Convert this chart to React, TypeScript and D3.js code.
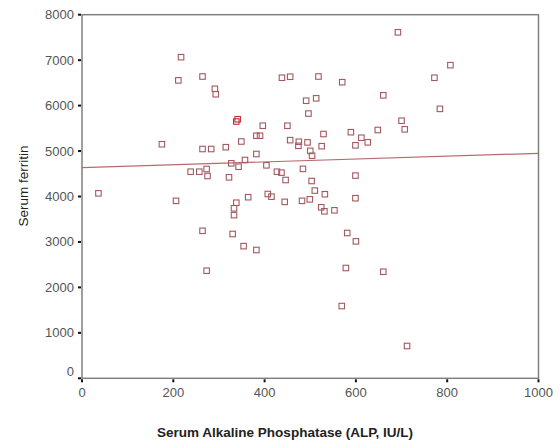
import React from "react";
import * as d3 from "d3";

const alp: number[] = [
  36, 175, 206, 211, 217, 238, 257, 264, 264, 264, 273, 273, 275, 283, 291, 293, 315, 322, 327, 330,
  333, 333, 338, 338, 341, 343, 349, 354, 357, 364, 382, 390, 382, 382, 396, 404, 407, 415, 427, 437,
  438, 444, 446, 450, 456, 456, 475, 474, 482, 484, 491, 494, 496, 499, 500, 504, 503, 510, 513, 518,
  524, 525, 529, 531, 532, 553, 569, 570, 578, 581, 589, 599, 599, 599, 600, 612, 626, 648, 660, 660,
  692, 700, 707, 712, 772, 784, 807,
];
const ferritin: number[] = [
  4070, 5150, 3905, 6555, 7065, 4545, 4545, 6640, 5045, 3245, 4605, 2367, 4451, 5045, 6370, 6250, 5085, 4422, 4730, 3175,
  3740, 3590, 3863, 5650, 5700, 4655, 5210, 2908, 4803, 3985, 5337, 5337, 4935, 2823, 5557, 4686, 4055, 3996, 4545, 4525,
  6613, 3882, 4363, 5557, 6635, 5240, 5205, 5115, 3905, 4608, 6107, 5190, 5825, 3938, 5004, 4897, 4341, 4130, 6160, 6640,
  3762, 5107, 5375, 3674, 4050, 3696, 1590, 6515, 2427, 3197, 5415, 5126, 4460, 3963, 3013, 5293, 5192, 5463, 6226, 2345,
  7612, 5667, 5478, 711, 6613, 5928, 6890,
];
const highlighted: number[] = [23, 24];

const xTicks: number[] = [0, 200, 400, 600, 800, 1000];
const yTicks: number[] = [0, 1000, 2000, 3000, 4000, 5000, 6000, 7000, 8000];

const fitIntercept = 4635;
const fitSlope = 0.315;

export default function App() {
  const W = 560;
  const H = 442;
  const x = d3.scaleLinear().domain([0, 1000]).range([82, 538.5]);
  const y = d3.scaleLinear().domain([0, 8000]).range([378.3, 14.7]);
  const axisColor = "#808080";
  const markColor = "#a25a5e";
  const lineColor = "#b86a6a";
  const font = "Arial, 'Liberation Sans', sans-serif";
  const s = 5.5;
  const fitLine = d3.line<number>().x((d) => x(d)).y((d) => y(fitIntercept + fitSlope * d));

  return (
    <svg width={W} height={H} style={{ position: "absolute", left: 0, top: 0, background: "#fff" }}>
      <rect x={0} y={0} width={W} height={H} fill="#fff" />
      <rect x={x(0)} y={y(8000)} width={x(1000) - x(0)} height={y(0) - y(8000)} fill="none" stroke={axisColor} strokeWidth={1.5} />
      <path d={fitLine([0, 1000]) || ""} fill="none" stroke={lineColor} strokeWidth={1.2} />
      {alp.map((v, i) => (
        <rect
          key={i}
          x={x(v) - s / 2}
          y={y(ferritin[i]) - s / 2}
          width={s}
          height={s}
          fill="none"
          stroke={highlighted.includes(i) ? "#c03030" : markColor}
          strokeWidth={1.1}
        />
      ))}
      {yTicks.map((t) => (
        <g key={"y" + t}>
          <rect x={x(0) - 4} y={y(t) - 1} width={3} height={2} fill="#111" />
          <text x={74} y={y(t) + (t === 0 ? -2 : 4.5)} textAnchor="end" fontFamily={font} fontSize={13} fill="#555">
            {t}
          </text>
        </g>
      ))}
      {xTicks.map((t) => (
        <g key={"x" + t}>
          <rect x={x(t) - 1} y={y(0) + 1} width={2} height={3} fill="#111" />
          <text x={x(t)} y={397} textAnchor="middle" fontFamily={font} fontSize={13} fill="#555">
            {t}
          </text>
        </g>
      ))}
      <text
        transform={`translate(28,186) rotate(-90)`}
        textAnchor="middle"
        fontFamily={font}
        fontSize={13.5}
        fill="#222"
      >
        Serum ferritin
      </text>
      <text x={285} y={437} textAnchor="middle" fontFamily={font} fontSize={12.5} fontWeight="bold" fill="#222" textLength={256} lengthAdjust="spacingAndGlyphs">
        Serum Alkaline Phosphatase (ALP, IU/L)
      </text>
    </svg>
  );
}
